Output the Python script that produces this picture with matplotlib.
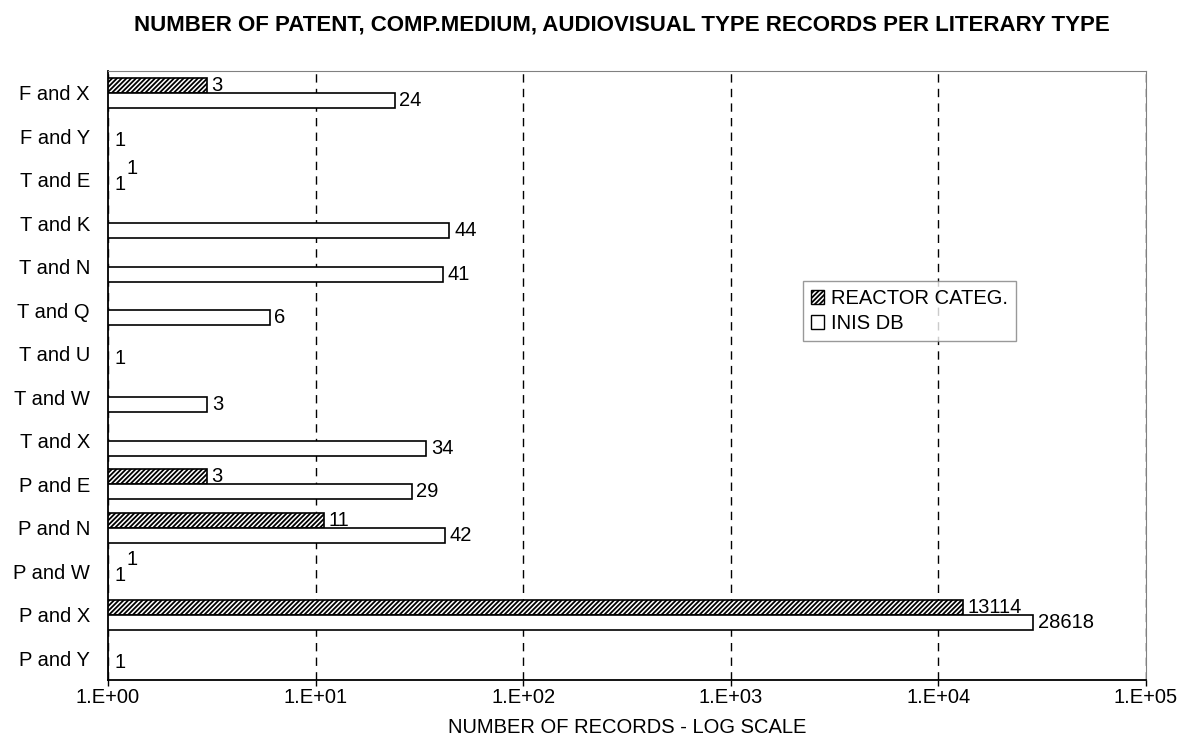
import numpy as np
import matplotlib.pyplot as plt
from matplotlib.patches import Patch

plt.rcParams['font.family'] = ['Liberation Sans', 'DejaVu Sans']
plt.rcParams['hatch.linewidth'] = 1.3

categories = ['F and X', 'F and Y', 'T and E', 'T and K', 'T and N', 'T and Q', 'T and U',
              'T and W', 'T and X', 'P and E', 'P and N', 'P and W', 'P and X', 'P and Y']
reactor = [3, None, 1, None, None, None, None, None, None, 3, 11, 1, 13114, None]
inis = [24, 1, 1, 44, 41, 6, 1, 3, 34, 29, 42, 1, 28618, 1]

fs = 14.5
fig = plt.figure(figsize=(11.84, 7.40), dpi=100)
ax = fig.add_axes([108 / 1184, 60 / 740, 1038 / 1184, 609 / 740])

n = len(categories)
y = np.arange(n)
h = 0.345

for i in range(n):
    r = reactor[i]
    v = inis[i]
    if r is not None:
        ax.barh(y[i] - h / 2, r, height=h, left=0, color='white', edgecolor='black',
                hatch='///////', linewidth=1.2)
        if r == 1:
            off = (13, 3)
        else:
            off = (3, 0)
        ax.annotate(str(r), (r, y[i] - h / 2), xytext=off, textcoords='offset points',
                    va='center', ha='left', fontsize=fs)
    ax.barh(y[i] + h / 2, v, height=h, left=0, color='white', edgecolor='black', linewidth=1.2)
    if v == 1:
        off = (5, 2)
    else:
        off = (3.5, 0)
    ax.annotate(str(v), (v, y[i] + h / 2), xytext=off, textcoords='offset points',
                va='center', ha='left', fontsize=fs)

ax.set_xscale('log')
ax.set_xlim(1, 1e5)
ax.set_ylim(n - 0.5, -0.5)
ax.set_yticks(y)
ax.set_yticklabels(categories, fontsize=fs)
ticks = [1, 10, 100, 1000, 10000, 100000]
ax.set_xticks(ticks)
ax.set_xticklabels(['1.E+00', '1.E+01', '1.E+02', '1.E+03', '1.E+04', '1.E+05'], fontsize=fs)
ax.xaxis.set_minor_locator(plt.NullLocator())
ax.tick_params(axis='x', length=4, pad=2, direction='out', width=1)
ax.tick_params(axis='y', which='major', length=0, pad=13)
ax.set_axisbelow(True)
ax.grid(axis='x', color='black', linestyle=(0, (6, 4.5)), linewidth=1.0)

for s in ['top', 'right']:
    ax.spines[s].set_color('#808080')
ax.spines['left'].set_linewidth(1.3)
ax.spines['bottom'].set_linewidth(1.3)

ax.set_xlabel('NUMBER OF RECORDS - LOG SCALE', fontsize=fs, labelpad=8)
fig.text(622 / 1184, 1 - 25 / 740,
         'NUMBER OF PATENT, COMP.MEDIUM, AUDIOVISUAL TYPE RECORDS PER LITERARY TYPE',
         fontsize=16, fontweight='bold', ha='center', va='center')

handles = [Patch(facecolor='white', edgecolor='black', hatch='///////', label='REACTOR CATEG.'),
           Patch(facecolor='white', edgecolor='black', label='INIS DB')]
leg = ax.legend(handles=handles, loc='upper left', bbox_to_anchor=(0.6696, 0.655),
                borderaxespad=0, fontsize=fs, frameon=True, fancybox=False,
                handlelength=0.65, handleheight=0.65, handletextpad=0.35,
                borderpad=0.4, labelspacing=0.3)
leg.get_frame().set_edgecolor('#808080')
leg.get_frame().set_linewidth(1.0)

fig.savefig('out.png', dpi=100)
